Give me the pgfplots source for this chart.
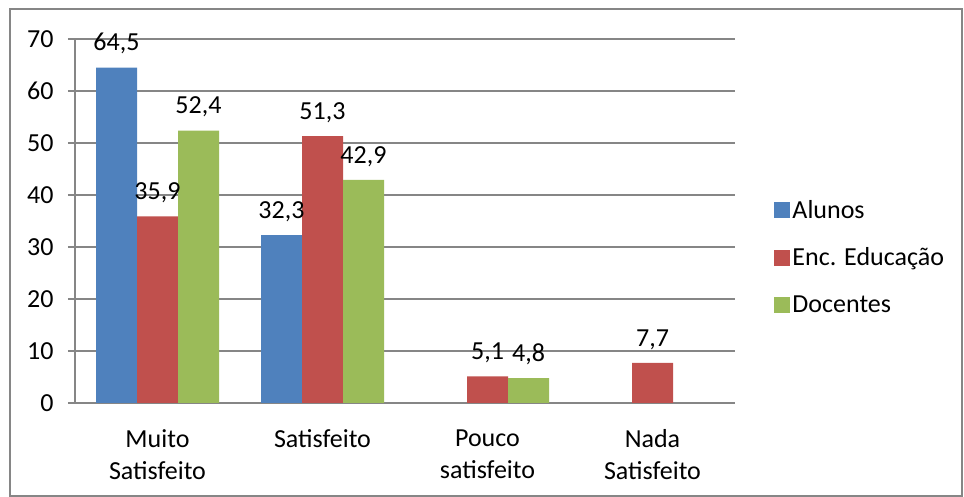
\documentclass[border=0pt]{standalone}
\usepackage{pgfplots}
\pgfplotsset{compat=1.18}
\usepackage{fontspec}
\setmainfont{Carlito}
\definecolor{cblue}{RGB}{79,129,189}
\definecolor{cred}{RGB}{192,80,77}
\definecolor{cgreen}{RGB}{155,187,89}
\definecolor{cgrid}{RGB}{134,134,134}
\newcommand{\lblfont}{\fontsize{26bp}{32bp}\selectfont}
\begin{document}
\begin{tikzpicture}[x=1bp,y=1bp]
\path (0,0) rectangle (964,495);
\draw[cgrid,line width=1.5bp] (10,-1) rectangle (962,486);
\begin{axis}[
  at={(75bp,92bp)}, anchor=south west,
  scale only axis, width=660bp, height=364bp,
  ybar=0pt, bar width=41bp,
  ymin=0, ymax=70, ytick={0,10,...,70},
  xmin=-0.5, xmax=3.5,
  xtick={0,1,2,3},
  xticklabels={{Muito\\Satisfeito},Satisfeito,{Pouco\\satisfeito},{Nada\\Satisfeito}},
  xticklabel style={align=center, font=\lblfont, yshift=-16bp},
  major x tick style={draw=none},
  extra x ticks={-0.5,0.5,1.5,2.5,3.5},
  extra x tick labels={},
  extra x tick style={major tick length=14bp, tick style={cgrid, line width=1.2bp}},
  axis x line*=bottom, axis y line*=left,
  axis line style={cgrid, line width=1.2bp, -},
  ytick style={cgrid, line width=1.2bp},
  major tick length=7bp,
  tick align=outside,
  ymajorgrids, grid style={cgrid, line width=1.2bp},
  yticklabel style={font=\lblfont, xshift=-11bp},
  /pgf/number format/assume math mode=true,
  nodes near coords,
  nodes near coords style={font=\lblfont, anchor=south, yshift=10bp,
    /pgf/number format/.cd, use comma, fixed, fixed zerofill, precision=1},
  legend style={at={(1.055,0.401)}, anchor=west, draw=none, fill=none,
    font=\lblfont, row sep=24bp, legend cell align=left,
    /tikz/every even column/.append style={column sep=1bp}},
  legend image code/.code={\fill[#1] (0bp,-8bp) rectangle (16bp,8bp);},
  clip=false,
]
\addplot[fill=cblue, draw=none] coordinates {(0,64.5) (1,32.3)};
\addlegendentry{Alunos}
\addplot[fill=cred, draw=none] coordinates {(0,35.9) (1,51.3) (2,5.1) (3,7.7)};
\addlegendentry{Enc. Educação}
\addplot[fill=cgreen, draw=none] coordinates {(0,52.4) (1,42.9) (2,4.8)};
\addlegendentry{Docentes}
\end{axis}
\end{tikzpicture}
\end{document}
